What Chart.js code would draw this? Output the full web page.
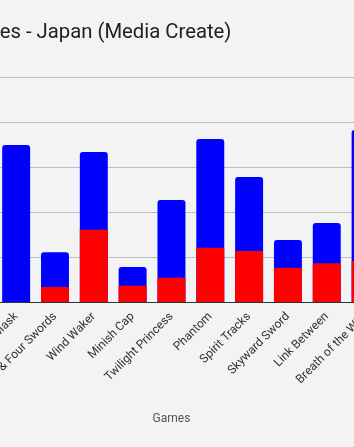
<!DOCTYPE html>
<html>
<head>
<meta charset="utf-8">
<title>Zelda Sales - Japan</title>
<script src="https://cdn.jsdelivr.net/npm/chart.js@4/dist/chart.umd.min.js"></script>
<style>
  html, body { margin: 0; padding: 0; background: #f3f3f3; overflow: hidden; }
  body { width: 354px; height: 447px; position: relative; }
  /* chart is wider than the window, the window shows its middle part */
  #wrap { position: absolute; left: -237px; top: 0; width: 628px; height: 447px; }
</style>
</head>
<body>
<div id="wrap"><canvas id="chart" width="628" height="447"></canvas></div>
<script>
const games = [
  "Ocarina of Time", "Majora's Mask", "ALttP & Four Swords", "Wind Waker",
  "Minish Cap", "Twilight Princess", "Phantom", "Spirit Tracks",
  "Skyward Sword", "Link Between", "Breath of the Wild"
];
// first week (red) and lifetime (blue), Media Create figures
const firstWeek = [null, null, 86000, 404000, 93000, 138000, 304000, 286000, 193000, 219000, 231000];
const lifetime = [1140000, 875000, 280000, 836000, 197000, 569000, 908000, 697000, 347000, 442000, 958000];
const yTicks = [0, 250000, 500000, 750000, 1000000, 1250000];

const font = "Roboto";

new Chart(document.getElementById("chart"), {
  type: "bar",
  data: {
    labels: games,
    datasets: [
      { label: "First Week", data: firstWeek, backgroundColor: "#ff0000", borderRadius: 0 },
      { label: "Lifetime", data: lifetime, backgroundColor: "#0000ff", borderRadius: 3 }
    ]
  },
  options: {
    responsive: false,
    animation: false,
    layout: { padding: { left: 0, right: 6, top: 0, bottom: 20 } },
    plugins: {
      title: {
        display: true,
        text: "Zelda Sales - Japan (Media Create)",
        color: "#212121",
        font: { family: font, size: 20.3, weight: "normal" },
        padding: { top: 21, bottom: 32 }
      },
      legend: {
        position: "left",
        labels: { font: { family: font, size: 12 }, color: "#444" }
      },
      tooltip: { enabled: false }
    },
    scales: {
      x: {
        stacked: true,
        grid: { display: false, tickLength: 4 },
        border: { color: "#333" },
        ticks: { minRotation: 45, maxRotation: 45, color: "#333", font: { family: font, size: 12 } },
        title: { display: true, text: "Games", color: "#555", font: { family: font, size: 12 }, padding: { top: 11, bottom: 1 } }
      },
      y: {
        min: 0,
        max: yTicks[yTicks.length - 1],
        afterBuildTicks: (axis) => { axis.ticks = yTicks.map(v => ({ value: v })); },
        grid: { color: "#bdbdbd" },
        border: { display: false },
        ticks: { padding: 6.5, color: "#444", font: { family: font, size: 12 }, callback: (v) => v.toLocaleString("en-US") }
      }
    }
  }
});
</script>
</body>
</html>
